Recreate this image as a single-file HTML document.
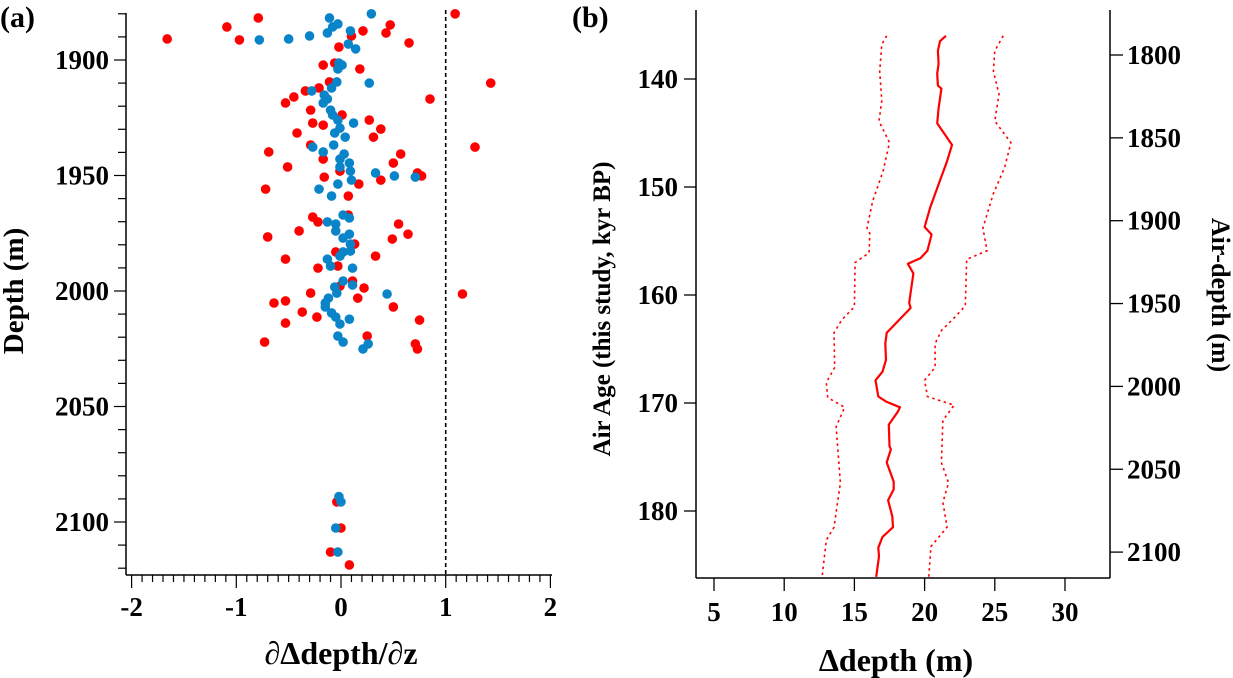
<!DOCTYPE html>
<html><head><meta charset="utf-8"><style>
html,body{margin:0;padding:0;background:#fff}
svg{display:block}
text{font-family:"Liberation Serif",serif;font-weight:bold;fill:#000}
</style></head><body>
<svg id="c" width="1233" height="678" viewBox="0 0 1233 678"></svg>
<script>
// Panel (a) data: derivative of Δdepth w.r.t. depth
const redX=[-0.79,-1.09,-1.66,-0.97,1.09,0.47,0.21,0.43,0.10,0.65,-0.02,-0.17,-0.06,0.18,-0.11,1.43,-0.21,-0.34,-0.45,-0.53,0.85,-0.29,0.01,0.27,0.38,-0.27,-0.17,-0.42,0.31,-0.29,1.28,-0.69,0.57,-0.17,0.50,-0.51,-0.01,-0.16,0.38,0.73,0.77,0.17,-0.72,
0.07,0.07,-0.27,-0.22,0.55,-0.40,0.64,-0.70,0.49,0.13,-0.05,0.33,-0.53,-0.03,-0.22,0.11,-0.01,0.22,-0.29,1.16,0.16,-0.64,-0.53,0.50,-0.37,-0.23,0.75,-0.53,0.25,-0.73,0.71,0.73,
-0.04,0.00,-0.10,0.08];
const redDepth=[1881.8,1885.7,1890.9,1891.3,1880,1884.8,1887.4,1888.3,1889.6,1892.6,1894.4,1902.2,1901.3,1903.9,1909.5,1910,1912.1,1913.4,1916,1918.6,1916.9,1921.7,1923.8,1926,1929.9,1927.3,1928.2,1931.6,1933.4,1936.8,1937.7,1939.8,1940.7,1942.9,1944.6,1946.3,1948.1,1950.7,1952,1948.9,1950.2,1953.7,1955.9,
1958.9,1967.1,1968,1970.1,1971,1974,1975.4,1976.6,1977.5,1979.7,1983.1,1984.9,1986.2,1989.2,1990.1,1995.7,1997.9,1998.7,2000.9,2001.3,2003.1,2005.2,2004.3,2006.9,2009.1,2011.3,2012.6,2013.9,2019.5,2022.1,2022.9,2025.1,
2091.3,2102.6,2113,2118.6];
const blueX=[-0.11,0.29,-0.03,-0.08,0.09,-0.13,-0.30,-0.50,-0.78,0.07,0.14,-0.02,0.01,-0.03,-0.04,0.27,-0.09,-0.28,-0.16,-0.13,-0.17,-0.10,-0.08,-0.03,0.12,-0.01,-0.06,0.04,-0.27,-0.07,-0.17,0.03,-0.01,0.08,-0.01,0.09,0.33,0.51,0.71,0.10,-0.03,-0.21,
-0.09,0.02,0.08,-0.13,-0.05,-0.05,0.08,0.02,0.09,0.09,0.02,-0.01,-0.13,-0.10,0.11,0.02,0.11,-0.06,-0.04,0.44,-0.12,-0.15,-0.15,-0.09,-0.05,0.08,-0.01,-0.03,0.02,0.26,0.21,
-0.02,0.00,-0.05,-0.03];
const blueDepth=[1881.8,1880,1884.4,1885.7,1887.4,1888.3,1889.6,1890.9,1891.3,1893.1,1895.2,1901.3,1902.2,1903.9,1909.5,1910,1912.1,1913.4,1915.2,1916.9,1918.6,1921.7,1923.8,1926,1927.3,1929.5,1931.6,1933.4,1937.7,1936.8,1939.8,1940.7,1942.9,1944.6,1946.3,1948.1,1948.9,1950.2,1950.7,1952,1953.7,1955.9,
1958.9,1967.1,1968.4,1970.1,1971,1974,1975.4,1977.1,1979.7,1982.7,1983.1,1984.9,1986.2,1989.2,1990.1,1995.7,1997.4,1998.3,2000.9,2001.3,2003.1,2005.2,2006.9,2009.5,2011.3,2012.2,2014.3,2019.5,2022.1,2022.9,2025.1,
2089.0,2091.3,2102.6,2113];
const aXTicks=[-2,-1,0,1,2];
const aYTicks=[1900,1950,2000,2050,2100];
// Panel (b) data
const midAge=[136.0,136.5,137.4,138.6,139.5,140.6,140.9,142.7,144.1,146.1,147.6,150.1,151.9,153.7,154.4,155.9,156.6,157.1,158.0,160.7,161.2,162.3,163.5,164.5,166.0,167.1,167.9,169.4,169.9,170.4,170.8,172.0,174.0,174.3,175.5,177.3,178.0,179.0,180.5,181.5,182.4,183.4,184.2,186.1];
const midDelta=[21.52,21.1,20.95,21.0,20.9,20.95,21.2,21.0,20.9,21.95,21.6,20.9,20.4,20.0,20.5,20.2,19.7,18.8,19.2,18.9,19.0,18.2,17.3,17.2,17.25,17.0,16.5,16.7,17.3,18.25,18.1,17.45,17.5,17.6,17.3,17.8,17.8,17.4,17.7,17.75,17.0,16.7,16.75,16.55];
const loAge=[136.0,136.8,139.3,142.0,143.9,145.9,148.5,151.3,153.8,154.3,156.1,156.5,157.0,161.1,162.3,163.5,166.7,168.1,169.5,170.4,172.2,177.4,181.5,182.7,186.1];
const loDelta=[17.3,16.95,16.8,16.95,16.75,17.5,17.05,16.3,15.9,16.1,16.05,15.6,15.05,15.0,14.1,13.55,13.6,13.0,13.1,14.3,13.7,14.0,13.55,13.0,12.7];
const hiAge=[136.0,137.4,139.3,141.4,143.9,145.9,148.2,150.6,153.8,155.9,156.7,161.0,162.0,163.3,164.5,166.7,167.9,169.4,170.2,171.6,175.5,177.4,179.2,181.5,183.3,186.1];
const hiDelta=[25.6,25.0,24.9,25.3,25.0,26.15,25.7,24.9,24.15,24.45,23.0,22.9,22.2,21.2,20.75,20.75,20.0,20.2,22.1,21.3,21.2,21.7,21.3,21.6,20.45,20.3];
const bXTicks=[5,10,15,20,25,30];
const bYTicks=[140,150,160,170,180];
const bRTicks=[1800,1850,1900,1950,2000,2050,2100];

const NS='http://www.w3.org/2000/svg';
const svg=document.getElementById('c');
function mk(tag,attrs,parent){const e=document.createElementNS(NS,tag);for(const k in attrs)e.setAttribute(k,attrs[k]);(parent||svg).appendChild(e);return e;}
function txt(s,attrs,parent){const e=mk('text',attrs,parent);e.textContent=s;return e;}

const ax=v=>341+v*104.7;
const ay=d=>60+(d-1900)*2.31;
const bx=v=>714+(v-5)*14.04;
const by=a=>79+(a-140)*10.8;
const br=m=>55+(m-1800)*1.657;

// ---- Panel a ----
const ga=mk('g',{});


const pl=txt('(a)',{x:0,y:27,'font-size':30},ga);

const ya=mk('line',{x1:126,y1:13,x2:126,y2:575,stroke:'#000','stroke-width':1.5},ga);

for(let d=1880;d<=2120;d+=10){const y=ay(d);if(y<12||y>575)continue;mk('line',{x1:(d%50===0)?114:118,y1:y,x2:126,y2:y,stroke:'#000','stroke-width':1.2},ga);}
aYTicks.forEach(d=>{const t=txt(String(d),{x:109,y:ay(d)+9,'text-anchor':'end','font-size':27},ga);});
const xa=mk('line',{x1:126,y1:575,x2:552,y2:575,stroke:'#000','stroke-width':1.5},ga);

for(let i=-20;i<=20;i++){const x=ax(i/10);mk('line',{x1:x,y1:575,x2:x,y2:(i%10===0)?588:582,stroke:'#000','stroke-width':1.2},ga);}
aXTicks.forEach(v=>{const t=txt(String(v),{x:ax(v),y:616,'text-anchor':'middle','font-size':27},ga);});
const dl=mk('line',{x1:ax(1),y1:10,x2:ax(1),y2:575,stroke:'#000','stroke-width':1.6,'stroke-dasharray':'4,3'},ga);

const xt=txt('∂Δdepth/∂z',{x:341,y:664,'text-anchor':'middle','font-size':32},ga);

const yt=txt('Depth (m)',{x:0,y:0,'text-anchor':'middle','font-size':29,transform:'translate(23,291) rotate(-90)'},ga);

redX.forEach((v,i)=>{const c=mk('circle',{cx:ax(v),cy:ay(redDepth[i]),r:4.8,fill:'#f00'},ga);

});
blueX.forEach((v,i)=>{const c=mk('circle',{cx:ax(v),cy:ay(blueDepth[i]),r:4.8,fill:'#0a84c8'},ga);

});

// ---- Panel b ----
const gb=mk('g',{});


const plb=txt('(b)',{x:572,y:27,'font-size':30},gb);

const yl=mk('line',{x1:696,y1:10,x2:696,y2:578,stroke:'#000','stroke-width':1.5},gb);

const yr=mk('line',{x1:1110,y1:10,x2:1110,y2:578,stroke:'#000','stroke-width':1.5},gb);

const xb=mk('line',{x1:696,y1:578,x2:1110,y2:578,stroke:'#000','stroke-width':1.5},gb);

bYTicks.forEach(a=>{const y=by(a);mk('line',{x1:684,y1:y,x2:696,y2:y,stroke:'#000','stroke-width':1.3},gb);
const t=txt(String(a),{x:678,y:y+9,'text-anchor':'end','font-size':27},gb);});
bRTicks.forEach(m=>{const y=br(m);mk('line',{x1:1110,y1:y,x2:1123,y2:y,stroke:'#000','stroke-width':1.3},gb);
const t=txt(String(m),{x:1127,y:y+9,'font-size':27},gb);});
bXTicks.forEach(v=>{const x=bx(v);mk('line',{x1:x,y1:578,x2:x,y2:591,stroke:'#000','stroke-width':1.3},gb);
const t=txt(String(v),{x:x,y:621,'text-anchor':'middle','font-size':27},gb);});
const xtb=txt('Δdepth (m)',{x:896,y:671,'text-anchor':'middle','font-size':32},gb);

const ytb=txt('Air Age (this study, kyr BP)',{x:0,y:0,'text-anchor':'middle','font-size':25,transform:'translate(610,309) rotate(-90)'},gb);

const ytr=txt('Air-depth (m)',{x:0,y:0,'text-anchor':'middle','font-size':26,transform:'translate(1212,295) rotate(90)'},gb);

function path(ages,vals){return ages.map((a,i)=>(i?'L':'M')+bx(vals[i]).toFixed(1)+','+by(a).toFixed(1)).join(' ');}
const lo=mk('path',{d:path(loAge,loDelta),fill:'none',stroke:'#f00','stroke-width':1.6,'stroke-dasharray':'2.5,3.5'},gb);

const hi=mk('path',{d:path(hiAge,hiDelta),fill:'none',stroke:'#f00','stroke-width':1.6,'stroke-dasharray':'2.5,3.5'},gb);

const md=mk('path',{d:path(midAge,midDelta),fill:'none',stroke:'#f00','stroke-width':2.2,'stroke-linejoin':'round'},gb);

</script>
</body></html>
